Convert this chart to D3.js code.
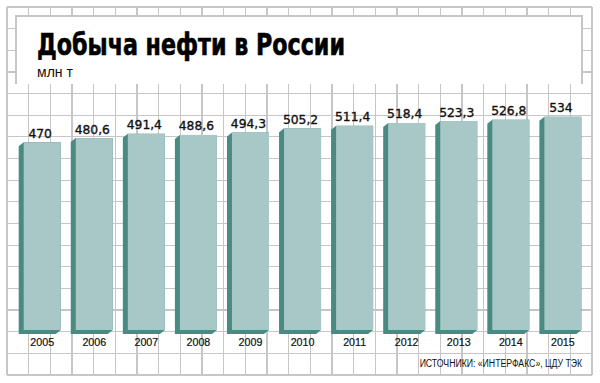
<!DOCTYPE html>
<html><head><meta charset="utf-8">
<script src="https://cdn.jsdelivr.net/npm/d3@7"></script>
<style>html,body{margin:0;padding:0;background:#fff;}svg{display:block;}</style>
</head><body>
<svg id="c" width="600" height="383"></svg>
<script>
const years = ["2005","2006","2007","2008","2009","2010","2011","2012","2013","2014","2015"];
const values = [470, 480.6, 491.4, 488.6, 494.3, 505.2, 511.4, 518.4, 523.3, 526.8, 534];
const valueLabels = ["470","480,6","491,4","488,6","494,3","505,2","511,4","518,4","523,3","526,8","534"];
const title = "Добыча нефти в России";
const subtitle = "млн т";
const source = "ИСТОЧНИКИ: «ИНТЕРФАКС», ЦДУ ТЭК";

const svg = d3.select("#c");
const gridColor = "#c6c6c6";

// background grid
const gx = d3.range(28).map(i => 7 + i * 585 / 27);
const gy = d3.range(18).map(j => 7 + j * 368 / 17);
const grid = svg.append("g").attr("stroke", gridColor).attr("stroke-width", 1.2).attr("shape-rendering","crispEdges");
grid.selectAll("line.v").data(gx).join("line").attr("class","v")
  .attr("x1", d => d).attr("x2", d => d).attr("y1", 7).attr("y2", 375);
grid.selectAll("line.h").data(gy).join("line").attr("class","h")
  .attr("y1", d => d).attr("y2", d => d).attr("x1", 7).attr("x2", 592);

// title panel
const panel = svg.append("g");
panel.append("rect").attr("x", 16).attr("y", 16).attr("width", 566).attr("height", 68).attr("fill", "#ffffff");
panel.append("path").attr("d", "M16,84V16H582V84").attr("fill","none").attr("stroke", gridColor).attr("stroke-width",1.2).attr("shape-rendering","crispEdges");

panel.append("text").attr("x", 37).attr("y", 55)
  .attr("font-family", "'DejaVu Sans Condensed','DejaVu Sans',sans-serif").attr("font-weight", "bold")
  .attr("font-size", 31).attr("fill", "#000").attr("stroke", "#000").attr("stroke-width", 0.6)
  .attr("textLength", 308).attr("lengthAdjust", "spacingAndGlyphs").text(title);
panel.append("text").attr("x", 37).attr("y", 77)
  .attr("font-family", "'Liberation Sans',Arial,sans-serif")
  .attr("font-size", 14).attr("fill", "#111")
  .text(subtitle);

// scales
const x = d3.scaleBand().domain(years).range([23.7, 581.4]).paddingInner(0.289).paddingOuter(0);
const y = d3.scaleLinear().domain([0, 600]).range([330, 90.4]);
const dx = 5, dy = 4;

const data = years.map((yr, i) => ({yr, v: values[i], lab: valueLabels[i]}));
const bars = svg.append("g").selectAll("g").data(data).join("g");

bars.append("path").attr("fill", "#498a82")
  .attr("d", d => {
    const x0 = x(d.yr), x1 = x0 + x.bandwidth(), y0 = y(d.v), y1 = y(0);
    return `M${x0},${y0}L${x0-dx},${y0+dy}L${x0-dx},${y1+dy}L${x1-dx},${y1+dy}L${x1},${y1}L${x1},${y0}Z`;
  });
bars.append("rect").attr("fill", "#a7c8c6")
  .attr("x", d => x(d.yr)).attr("y", d => y(d.v))
  .attr("width", x.bandwidth()).attr("height", d => y(0) - y(d.v));

bars.append("text").attr("text-anchor", "middle")
  .attr("x", d => x(d.yr) + x.bandwidth() / 2 - 2).attr("y", d => y(d.v) - 4.5)
  .attr("font-family", "'DejaVu Sans',sans-serif").attr("font-size", 12.3).attr("fill", "#111")
  .attr("stroke", "#111").attr("stroke-width", 0.35)
  .text(d => d.lab);

bars.append("text").attr("text-anchor", "middle")
  .attr("x", d => x(d.yr) + x.bandwidth() / 2).attr("y", 346)
  .attr("font-family", "'Liberation Sans',Arial,sans-serif").attr("font-size", 10.7).attr("fill", "#111")
  .attr("stroke", "#111").attr("stroke-width", 0.2)
  .text(d => d.yr);

svg.append("text").attr("transform", "translate(582,367) scale(0.87,1)").attr("text-anchor", "end")
  .attr("font-family", "'Liberation Sans',Arial,sans-serif").attr("font-size", 10)
  .attr("fill", "#111").text(source);
</script>
</body></html>
